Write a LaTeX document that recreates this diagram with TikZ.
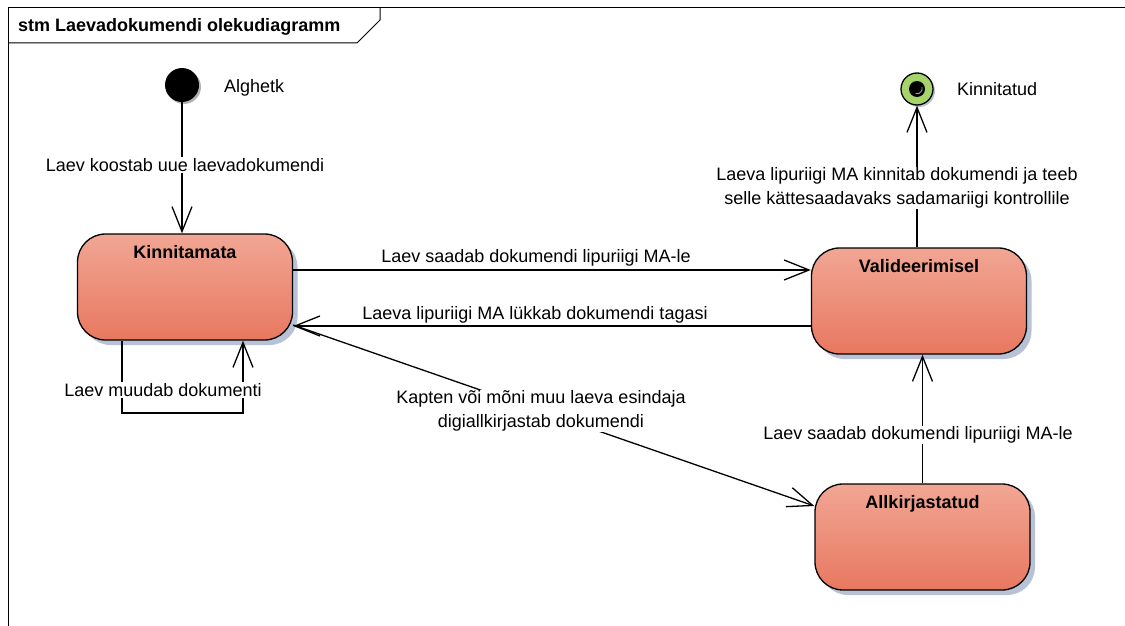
\documentclass[tikz,border=0pt]{standalone}
\usepackage{fontspec}
\setmainfont{Liberation Sans}
\usetikzlibrary{arrows.meta,shadows,calc}
\definecolor{statetop}{RGB}{241,166,148}
\definecolor{statebot}{RGB}{232,120,96}
\definecolor{shadowblue}{RGB}{184,194,214}
\definecolor{finalgreen}{RGB}{166,212,106}
\tikzset{
  state/.style={draw=black, line width=1.3pt, rounded corners=28pt,
    top color=statetop, bottom color=statebot,
    minimum width=215pt, inner xsep=0pt, inner ysep=0pt,
    text height=24.5pt, text depth=81.5pt,
    font=\fontsize{18}{20}\selectfont\bfseries,
    drop shadow={shadow xshift=5pt, shadow yshift=-5pt, fill=shadowblue, opacity=1}},
  tr/.style={line width=1.3pt, -{Straight Barb[length=25pt,width=20pt,line width=1.3pt]}},
  lbl/.style={font=\fontsize{18}{23.5}\selectfont, fill=white, inner sep=1pt, align=center},
  plain/.style={font=\fontsize{18}{23.5}\selectfont, inner sep=0pt},
}
\begin{document}
\begin{tikzpicture}[x=1pt,y=-1pt]
\useasboundingbox[fill=white] (0,0) rectangle (1125,626);

% diagram frame and title tab
\draw[line width=1pt] (8,626) -- (8,8) -- (1125,8);
\draw[line width=1pt] (8,43) -- (357,43) -- (380,20) -- (380,8);
\node[anchor=west, inner sep=0pt, font=\fontsize{18}{20}\selectfont\bfseries] (title) at (18,27) {stm Laevadokumendi olekudiagramm};

% pseudo states
\node[circle, fill=black, minimum size=34pt, inner sep=0pt,
  drop shadow={shadow xshift=2pt, shadow yshift=-2pt, fill=gray!60, opacity=1}] (init) at (182,85) {};
\node[plain, anchor=west] (initname) at (224,88) {Alghetk};

\node[circle, draw=black, line width=1.3pt, fill=finalgreen, minimum size=32pt, inner sep=0pt,
  drop shadow={shadow xshift=2pt, shadow yshift=-2pt, fill=shadowblue, opacity=1}] (fin) at (917,89) {};
\node[circle, fill=black, minimum size=16pt, inner sep=0pt] (findot) at (fin) {};
\draw[gray!70, line width=0.8pt] ($(findot)+(5,-2)$) arc[start angle=20, end angle=-110, radius=5pt];
\node[plain, anchor=west] (finname) at (957,89) {Kinnitatud};

% states
\node[state] (kin) at (185,287) {Kinnitamata};
\node[state] (val) at (919,301) {Valideerimisel};
\node[state] (all) at (922.5,537) {Allkirjastatud};

% transitions
\coordinate (loopc) at (243,413);
\draw[tr] (init) -- (kin.north -| init);
\draw[tr] (kin.east |- 0,270) -- (val.west |- 0,270);
\draw[tr] (val.west |- 0,326) -- (kin.east |- 0,326);
\draw[tr] (kin.east |- 0,325) -- (all.west |- 0,506);
\draw[tr] (kin.south -| 122,0) |- (loopc) -- (kin.south -| loopc);
\draw[tr] (all.north) -- (val.south -| all.north);
\draw[tr] (val.north -| fin) -- (fin);

% transition labels
\node[lbl] (l1) at (185,165) {Laev koostab uue laevadokumendi};
\node[lbl] (l2) at (536,258) {Laev saadab dokumendi lipuriigi MA-le};
\node[lbl] (l3) at (535,315) {Laeva lipuriigi MA lükkab dokumendi tagasi};
\node[lbl] (l4) at (163,390) {Laev muudab dokumenti};
\node[lbl] (l5) at (541,411) {Kapten või mõni muu laeva esindaja\\digiallkirjastab dokumendi};
\node[lbl] (l6) at (918,435) {Laev saadab dokumendi lipuriigi MA-le};
\node[lbl] (l7) at (897,188) {Laeva lipuriigi MA kinnitab dokumendi ja teeb\\selle kättesaadavaks sadamariigi kontrollile};
\end{tikzpicture}
\end{document}
